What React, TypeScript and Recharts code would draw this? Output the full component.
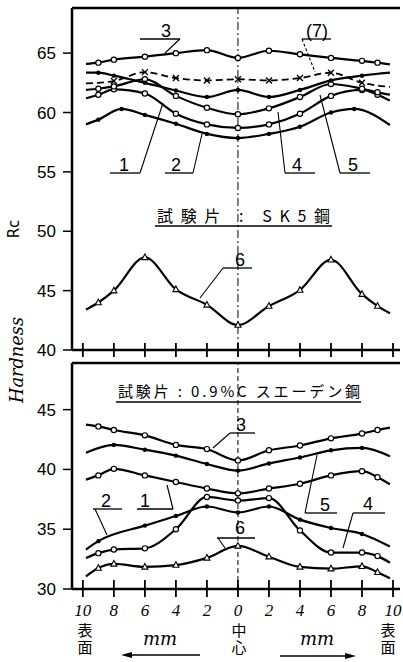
import React from "react";
import { LineChart, Line, XAxis, YAxis, ReferenceLine } from "recharts";

const TICKS_X = [-10, -8, -6, -4, -2, 0, 2, 4, 6, 8, 10];
const TICKS_TOP = [40, 45, 50, 55, 60, 65];
const TICKS_BOTTOM = [30, 35, 40, 45];

// x positions (mm from centre, left side negative)
const X_FULL = [-9.8, -9, -8, -6, -4, -2, 0, 2, 4, 6, 8, 9, 9.8];

// SK5 steel (top panel)
const sk3 = [64.1, 64.2, 64.45, 64.7, 65.0, 65.25, 64.6, 65.2, 64.9, 64.6, 64.35, 64.2, 64.05];
const sk7X = [-9.8, -8, -6, -4, -2, 0, 2, 4, 6, 8, 9.8];
const sk7 = [62.45, 62.65, 63.4, 62.9, 62.7, 62.8, 62.7, 62.9, 63.35, 62.5, 62.15];
const sk5X = [-9.8, -9, -8, -6, -4, -2, 0, 2, 4, 6, 8, 9.8];
const sk5 = [63.35, 63.35, 63.1, 62.5, 61.85, 61.3, 61.9, 61.3, 61.9, 62.7, 63.1, 63.35];
const sk4 = [61.9, 62.0, 62.2, 62.8, 61.4, 60.4, 59.85, 60.35, 61.3, 62.4, 62.0, 61.7, 61.5];
const sk1 = [61.2, 61.5, 61.95, 61.6, 59.9, 59.0, 58.7, 59.0, 59.9, 61.4, 61.9, 61.5, 61.0];
const sk2X = [-9.8, -9, -7.5, -6, -4, -2, 0, 2, 4, 6, 7.5, 9.8];
const sk2 = [59.0, 59.4, 60.3, 59.8, 59.05, 58.2, 57.85, 58.2, 58.8, 60.0, 60.3, 58.95];
const sk6 = [43.4, 44.0, 45.0, 47.8, 45.1, 43.8, 42.1, 43.7, 45.05, 47.6, 44.7, 43.7, 43.1];

// 0.9%C Swedish steel (bottom panel)
const sw3 = [43.75, 43.6, 43.3, 42.85, 42.05, 41.7, 40.75, 41.6, 42.0, 42.6, 43.0, 43.3, 43.5];
const sw5X = [-9.8, -8, -6, -4, -2, 0, 2, 4, 6, 8, 9.8];
const sw5 = [41.4, 42.05, 41.65, 41.15, 40.45, 39.9, 40.5, 41.0, 41.6, 41.8, 41.1];
const sw1 = [39.15, 39.5, 40.05, 39.5, 38.95, 38.4, 38.0, 38.4, 38.8, 39.5, 39.85, 39.35, 38.75];
const sw4 = [32.6, 33.0, 33.3, 33.4, 35.0, 37.7, 37.4, 37.6, 34.9, 33.05, 33.05, 32.75, 32.2];
const sw2X = [-9.8, -9, -6, -4, -2, 0, 2, 4, 6, 8, 9.8];
const sw2 = [33.3, 34.0, 35.3, 36.1, 36.9, 36.4, 36.9, 35.8, 35.1, 34.6, 33.55];
const sw6 = [31.05, 31.75, 32.1, 31.85, 32.0, 32.6, 33.6, 32.7, 31.85, 31.7, 31.9, 31.4, 30.9];

type Series = { key: string; xs: number[]; ys: number[] };

function buildRows(list: Series[]) {
  const map = new Map<number, Record<string, number>>();
  list.forEach((s) =>
    s.xs.forEach((x, i) => {
      const row = map.get(x) ?? { x };
      row[s.key] = s.ys[i];
      map.set(x, row);
    })
  );
  return [...map.values()].sort((a, b) => a.x - b.x);
}

const topRows = buildRows([
  { key: "c3", xs: X_FULL, ys: sk3 },
  { key: "c7", xs: sk7X, ys: sk7 },
  { key: "c5", xs: sk5X, ys: sk5 },
  { key: "c4", xs: X_FULL, ys: sk4 },
  { key: "c1", xs: X_FULL, ys: sk1 },
  { key: "c2", xs: sk2X, ys: sk2 },
  { key: "c6", xs: X_FULL, ys: sk6 },
]);

const bottomRows = buildRows([
  { key: "c3", xs: X_FULL, ys: sw3 },
  { key: "c5", xs: sw5X, ys: sw5 },
  { key: "c1", xs: X_FULL, ys: sw1 },
  { key: "c4", xs: X_FULL, ys: sw4 },
  { key: "c2", xs: sw2X, ys: sw2 },
  { key: "c6", xs: X_FULL, ys: sw6 },
]);

type Shape = "open" | "filled" | "cross" | "tri";

const makeDot = (shape: Shape) => (p: any) => {
  const { cx, cy, value, payload, index } = p;
  const k = `${shape}-${index}`;
  if (cx == null || cy == null || value == null || Math.abs(payload.x) > 9.5) return <g key={k} />;
  if (shape === "open")
    return <circle key={k} cx={cx} cy={cy} r={2.6} fill="#fff" stroke="#000" strokeWidth={1.2} />;
  if (shape === "filled") return <circle key={k} cx={cx} cy={cy} r={2.2} fill="#000" />;
  if (shape === "cross")
    return (
      <g key={k} stroke="#000" strokeWidth={1.3}>
        <line x1={cx - 3} y1={cy - 3} x2={cx + 3} y2={cy + 3} />
        <line x1={cx - 3} y1={cy + 3} x2={cx + 3} y2={cy - 3} />
      </g>
    );
  return (
    <polygon
      key={k}
      points={`${cx},${cy - 3.4} ${cx - 3},${cy + 2.2} ${cx + 3},${cy + 2.2}`}
      fill="#fff"
      stroke="#000"
      strokeWidth={1.1}
    />
  );
};

const curve = (key: string, shape: Shape, dashed = false) => (
  <Line
    key={key}
    dataKey={key}
    type="monotone"
    stroke="#000"
    strokeWidth={dashed ? 1.8 : 2.2}
    strokeDasharray={dashed ? "7 4" : undefined}
    dot={makeDot(shape)}
    activeDot={false}
    connectNulls
    isAnimationActive={false}
  />
);

const CrossTick = ({ x, y }: any) => (
  <line x1={x} x2={x} y1={y - 7} y2={y + 7} stroke="#000" strokeWidth={1.8} />
);

const LabelTick = ({ x, y, payload }: any) => (
  <g>
    <line x1={x} x2={x} y1={y - 9} y2={y + 8} stroke="#000" strokeWidth={1.8} />
    <text
      x={x}
      y={y + 27}
      textAnchor="middle"
      fontSize={17}
      fontStyle="italic"
      fontFamily="Liberation Serif"
      fill="#000"
    >
      {Math.abs(payload.value)}
    </text>
  </g>
);

const yTick = { fill: "#000", fontSize: 17, fontFamily: "Liberation Sans" };

function Tag({ t, tx, ty, u1, u2, uy, lx, ly, dashed }: any) {
  return (
    <g>
      <text x={tx} y={ty} textAnchor="middle" fontSize={18} fontFamily="Liberation Sans" fill="#000">
        {t}
      </text>
      <line x1={u1} x2={u2} y1={uy} y2={uy} stroke="#000" strokeWidth={1.3} />
      <line
        x1={lx[0]}
        y1={uy}
        x2={lx[1]}
        y2={ly}
        stroke="#000"
        strokeWidth={1.1}
        strokeDasharray={dashed ? "3 2" : undefined}
      />
    </g>
  );
}

// vertical two-character caption under the axis
function Vert({ x, t }: { x: number; t: string }) {
  return (
    <text
      x={x}
      y={623}
      fontFamily="Noto Sans CJK JP"
      fontSize={15}
      letterSpacing={2}
      fill="#000"
      style={{ writingMode: "vertical-rl" }}
    >
      {t}
    </text>
  );
}

export default function App() {
  return (
    <div style={{ position: "absolute", left: 0, top: 0, width: 403, height: 662, background: "#fff" }}>
      <div style={{ position: "absolute", left: 0, top: 0 }}>
        <LineChart width={403} height={364} data={topRows} margin={{ top: 8, right: 3, bottom: 0, left: 0 }}>
          <XAxis
            dataKey="x"
            type="number"
            domain={[-10.7, 10.45]}
            allowDataOverflow
            ticks={TICKS_X}
            interval={0}
            height={14}
            tickSize={0}
            tickMargin={0}
            tick={<CrossTick />}
            axisLine={{ stroke: "#000", strokeWidth: 2.5 }}
          />
          <YAxis
            type="number"
            domain={[40, 68.8]}
            allowDataOverflow
            ticks={TICKS_TOP}
            width={72}
            tickSize={9}
            tickMargin={7}
            tick={yTick}
            tickLine={{ stroke: "#000", strokeWidth: 1.5 }}
            axisLine={{ stroke: "#000", strokeWidth: 2.5 }}
          />
          <ReferenceLine y={68.8} stroke="#000" strokeWidth={2.5} />
          <ReferenceLine x={0} stroke="#000" strokeWidth={1} strokeDasharray="8 3 2 3" />
          {curve("c2", "filled")}
          {curve("c1", "open")}
          {curve("c4", "open")}
          {curve("c5", "filled")}
          {curve("c7", "cross", true)}
          {curve("c3", "open")}
          {curve("c6", "tri")}
        </LineChart>
      </div>
      <div style={{ position: "absolute", left: 0, top: 355 }}>
        <LineChart width={403} height={307} data={bottomRows} margin={{ top: 8, right: 3, bottom: 0, left: 0 }}>
          <XAxis
            dataKey="x"
            type="number"
            domain={[-10.7, 10.45]}
            allowDataOverflow
            ticks={TICKS_X}
            interval={0}
            height={73}
            tickSize={0}
            tickMargin={0}
            tick={<LabelTick />}
            axisLine={{ stroke: "#000", strokeWidth: 2.5 }}
          />
          <YAxis
            type="number"
            domain={[30, 48.9]}
            allowDataOverflow
            ticks={TICKS_BOTTOM}
            width={72}
            tickSize={9}
            tickMargin={7}
            tick={yTick}
            tickLine={{ stroke: "#000", strokeWidth: 1.5 }}
            axisLine={{ stroke: "#000", strokeWidth: 2.5 }}
          />
          <ReferenceLine y={48.9} stroke="#000" strokeWidth={2.5} />
          <ReferenceLine x={0} stroke="#000" strokeWidth={1} strokeDasharray="5 3" />
          {curve("c6", "tri")}
          {curve("c2", "filled")}
          {curve("c4", "open")}
          {curve("c1", "open")}
          {curve("c5", "filled")}
          {curve("c3", "open")}
        </LineChart>
      </div>
      <svg
        width={403}
        height={662}
        style={{ position: "absolute", left: 0, top: 0, pointerEvents: "none" }}
      >
        {/* axis titles */}
        <text x={0} y={0} transform="translate(19,229) rotate(-90)" textAnchor="middle" fontSize={15} fontFamily="DejaVu Sans" fill="#000">
          Rc
        </text>
        <text
          x={0}
          y={0}
          transform="translate(23,360) rotate(-90)"
          textAnchor="middle"
          fontSize={19}
          fontStyle="italic"
          fontFamily="DejaVu Serif"
          textLength={86}
          lengthAdjust="spacingAndGlyphs"
          fill="#000"
        >
          Hardness
        </text>

        {/* panel titles */}
        <text x={157} y={222} fontSize={16} fontFamily="Noto Sans CJK JP" textLength={173} lengthAdjust="spacing" fill="#000">
          試験片 : SK5鋼
        </text>
        <line x1={155} x2={332} y1={226} y2={226} stroke="#000" strokeWidth={1.3} />
        <text x={118} y={397} fontSize={15} fontFamily="Noto Sans CJK JP" textLength={242} lengthAdjust="spacing" fill="#000">
          試験片 : 0.9%C スエーデン鋼
        </text>
        <line x1={116} x2={361} y1={402} y2={402} stroke="#000" strokeWidth={1.3} />

        {/* curve tags, top panel */}
        <Tag t="3" tx={166} ty={37} u1={140} u2={180} uy={39} lx={[180, 165]} ly={53} />
        <Tag t="(7)" tx={317} ty={37} u1={302} u2={331} uy={39} lx={[302, 315]} ly={72} dashed />
        <Tag t="1" tx={124} ty={171} u1={110} u2={140} uy={173} lx={[140, 163]} ly={103} />
        <Tag t="2" tx={176} ty={171} u1={165} u2={193} uy={173} lx={[193, 202]} ly={134} />
        <Tag t="4" tx={297} ty={171} u1={285} u2={315} uy={173} lx={[285, 278]} ly={112} />
        <Tag t="5" tx={353} ty={171} u1={340} u2={370} uy={173} lx={[340, 320]} ly={95} />
        <Tag t="6" tx={240} ty={266} u1={223} u2={252} uy={268} lx={[223, 200]} ly={298} />

        {/* curve tags, bottom panel */}
        <Tag t="3" tx={241} ty={431} u1={230} u2={255} uy={433} lx={[230, 213]} ly={448} />
        <Tag t="5" tx={325} ty={511} u1={305} u2={337} uy={513} lx={[305, 317]} ly={455} />
        <Tag t="4" tx={368} ty={510} u1={353} u2={385} uy={513} lx={[353, 343]} ly={548} />
        <Tag t="2" tx={106} ty={507} u1={93} u2={122} uy={509} lx={[95, 107]} ly={535} />
        <Tag t="1" tx={145} ty={507} u1={137} u2={173} uy={509} lx={[173, 167]} ly={485} />
        <Tag t="6" tx={240} ty={534} u1={217} u2={255} uy={538} lx={[218, 225]} ly={548} />

        {/* bottom axis captions */}
        <Vert x={85} t="表面" />
        <Vert x={239} t="中心" />
        <Vert x={388} t="表面" />
        <g fontFamily="DejaVu Serif" fontStyle="italic" fontSize={18} fill="#000" textAnchor="middle">
          <text x={160} y={645}>mm</text>
          <text x={317} y={645}>mm</text>
        </g>
        <g stroke="#000" strokeWidth={1.5} fill="#000">
          <line x1={124} x2={200} y1={655} y2={655} />
          <polygon points="121,655 132,652 132,658" stroke="none" />
          <line x1={280} x2={352} y1={656} y2={656} />
          <polygon points="356,656 345,653 345,659" stroke="none" />
        </g>
      </svg>
    </div>
  );
}
